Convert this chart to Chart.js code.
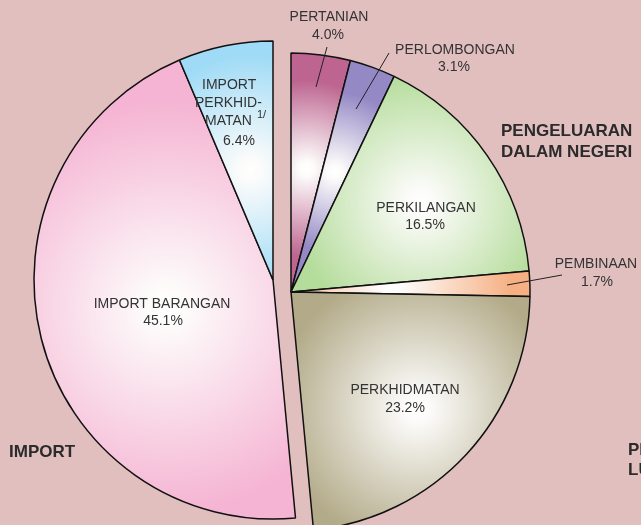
<!DOCTYPE html>
<html>
<head>
<meta charset="utf-8">
<script src="https://cdn.jsdelivr.net/npm/chart.js@4.4.1/dist/chart.umd.min.js"></script>
<style>
html, body { margin: 0; padding: 0; background: #e2bfbf; }
#wrap { position: relative; width: 641px; height: 525px; overflow: hidden; background: #e2bfbf; }
#wrap canvas { position: absolute; left: 0; top: 0; }
</style>
</head>
<body>
<div id="wrap">
	<canvas id="importChart" width="641" height="525"></canvas>
	<canvas id="domesticChart" width="641" height="525"></canvas>
</div>
<script>
// data
var sectors = ['PERTANIAN', 'PERLOMBONGAN', 'PERKILANGAN', 'PEMBINAAN', 'PERKHIDMATAN', 'IMPORT BARANGAN', 'IMPORT PERKHIDMATAN'];
var shares = [4.0, 3.1, 16.5, 1.7, 23.2, 45.1, 6.4];
var groupOf = ['D', 'D', 'D', 'D', 'D', 'I', 'I'];

// styles
var sliceColors = ['#bd6590', '#9489c5', '#b4dc9a', '#f6b083', '#b2aa88', '#f5b4d3', '#9fdbf6'];
var glowAt = [0.52, 0.535, 0.66, 0.42, 0.72, 0.46, 0.47];
var glowSize = [88, 80, 130, 120, 140, 205, 115];
var R = 239;
var textColor = '#333333';
var font = '"Liberation Sans", Arial, sans-serif';

var total = shares.reduce(function(a, b) { return a + b; }, 0);

var midAngle = function(i) {
	var before = 0;
	for (var k = 0; k < i; k++) before += shares[k];
	return (before + shares[i] / 2) / total * Math.PI * 2;
};

var sliceFill = function(part) {
	return function(c) {
		var i = c.dataIndex;
		if (groupOf[i] !== part) return 'rgba(0,0,0,0)';
		var area = c.chart.chartArea;
		if (!area) return sliceColors[i];
		var cx = (area.left + area.right) / 2, cy = (area.top + area.bottom) / 2;
		var a = midAngle(i);
		var gx = cx + Math.sin(a) * glowAt[i] * R;
		var gy = cy - Math.cos(a) * glowAt[i] * R;
		var g = c.chart.ctx.createRadialGradient(gx, gy, 0, gx, gy, glowSize[i]);
		g.addColorStop(0, '#ffffff');
		g.addColorStop(0.08, '#fdfcfb');
		g.addColorStop(1, sliceColors[i]);
		return g;
	};
};

var sliceBorder = function(part) {
	return function(c) {
		return groupOf[c.dataIndex] === part ? 1.5 : 0;
	};
};

var labelPlugin = {
	id: 'sectorLabels',
	afterDraw: function(chart) {
		var ctx = chart.ctx;
		ctx.save();
		ctx.fillStyle = textColor;
		ctx.textAlign = 'center';
		ctx.textBaseline = 'middle';
		ctx.font = '14px ' + font;

		ctx.fillText('PERTANIAN', 329, 17);
		ctx.fillText(shares[0].toFixed(1) + '%', 328, 35);
		ctx.fillText('PERLOMBONGAN', 455, 50);
		ctx.fillText(shares[1].toFixed(1) + '%', 454, 67);
		ctx.fillText('PERKILANGAN', 426, 208);
		ctx.fillText(shares[2].toFixed(1) + '%', 425, 225);
		ctx.fillText('PEMBINAAN', 596, 264);
		ctx.fillText(shares[3].toFixed(1) + '%', 597, 282);
		ctx.fillText('PERKHIDMATAN', 405, 390);
		ctx.fillText(shares[4].toFixed(1) + '%', 405, 408);
		ctx.fillText('IMPORT BARANGAN', 162, 304);
		ctx.fillText(shares[5].toFixed(1) + '%', 163, 321);

		ctx.textAlign = 'left';
		ctx.fillText('IMPORT', 202, 85);
		ctx.fillText('PERKHID-', 195, 103);
		ctx.fillText('MATAN', 205, 121);
		ctx.fillText(shares[6].toFixed(1) + '%', 223, 141);
		ctx.font = '11px ' + font;
		ctx.fillText('1/', 257, 115);

		ctx.font = 'bold 17px ' + font;
		ctx.fillStyle = '#2b2b2b';
		ctx.fillText('PENGELUARAN', 501, 131);
		ctx.fillText('DALAM NEGERI', 501, 152);
		ctx.fillText('IMPORT', 9, 452);
		ctx.fillText('PENGELUARAN', 628, 450);
		ctx.fillText('LUAR NEGERI', 628, 470);

		ctx.strokeStyle = '#222222';
		ctx.lineWidth = 1;
		ctx.beginPath();
		ctx.moveTo(327, 47); ctx.lineTo(316, 87);
		ctx.moveTo(389, 53); ctx.lineTo(356, 109);
		ctx.moveTo(562, 275); ctx.lineTo(507, 285);
		ctx.stroke();
		ctx.restore();
	}
};

var makePie = function(id, part, padding, plugins) {
	return new Chart(document.getElementById(id), {
		type: 'pie',
		data: {
			labels: sectors,
			datasets: [{
				data: shares,
				backgroundColor: sliceFill(part),
				borderColor: '#111111',
				borderWidth: sliceBorder(part)
			}]
		},
		options: {
			responsive: false,
			animation: false,
			devicePixelRatio: 1,
			radius: R,
			rotation: 0,
			events: [],
			layout: { padding: padding },
			plugins: {
				legend: { display: false },
				tooltip: { enabled: false }
			}
		},
		plugins: plugins
	});
};

var importChart = makePie('importChart', 'I', { left: 0, right: 95, top: 35, bottom: 0 }, []);
var domesticChart = makePie('domesticChart', 'D', { left: 0, right: 59, top: 59, bottom: 0 }, [labelPlugin]);
</script>
</body>
</html>
